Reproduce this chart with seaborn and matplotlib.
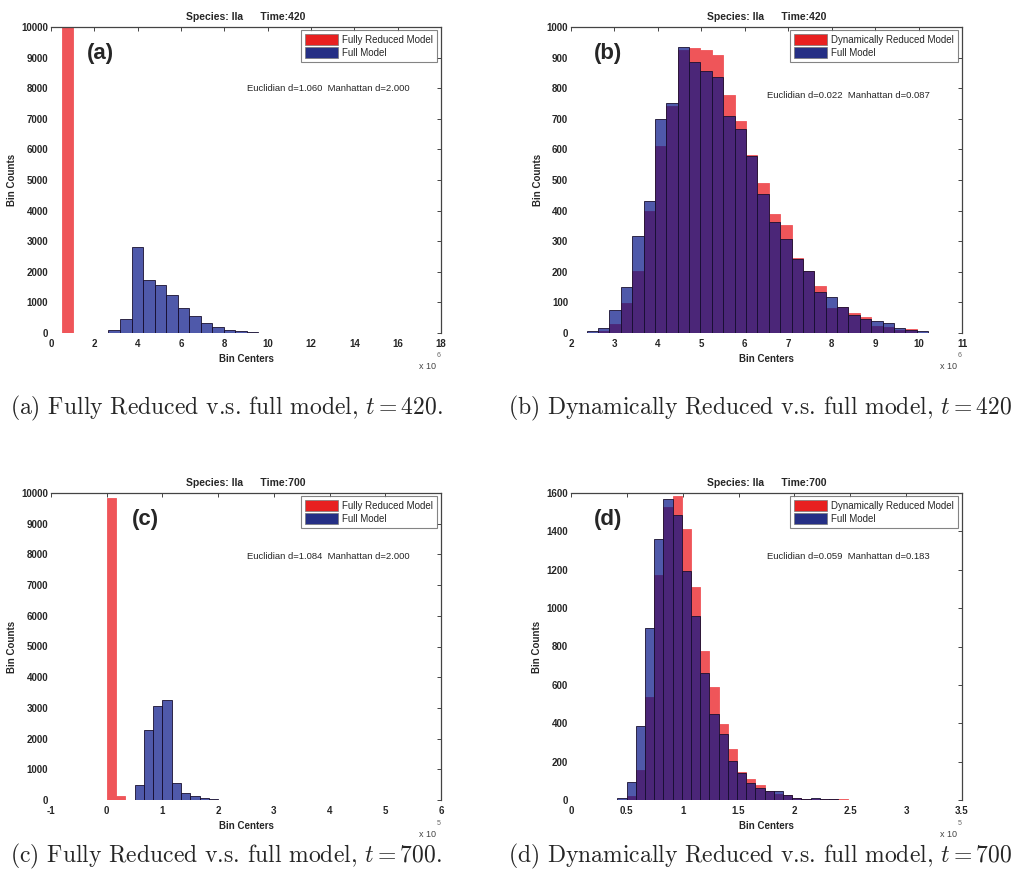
import numpy as np
import pandas as pd
import matplotlib
matplotlib.use('Agg')
import matplotlib.pyplot as plt
import seaborn as sns
from matplotlib.patches import Patch

# ---- data (bin counts) ----
# (a) t=420, fully reduced vs full, x in units of 1e6
a_red_edges = [0.52, 1.03]
a_red_counts = [10000]
a_blue_range = (2.12, 10.1, 15)
a_blue_counts = [10, 87, 457, 2815, 1739, 1554, 1228, 826, 565, 337, 207, 109, 65, 33, 10]

# (b) t=420, dynamically reduced vs full
b_range = (2.36, 10.22, 30)
b_red_counts = [0, 8, 30, 98, 203, 399, 612, 741, 924, 932, 926, 908, 779, 692, 582,
                490, 388, 352, 245, 201, 154, 83, 84, 65, 51, 22, 18, 11, 13, 0]
b_blue_counts = [5, 16, 74, 149, 317, 433, 698, 752, 935, 885, 855, 838, 709, 666, 578,
                 453, 362, 307, 243, 201, 135, 118, 84, 58, 46, 40, 33, 16, 11, 5]

# (c) t=700, fully reduced vs full, x in units of 1e5
c_red_range = (0.0, 0.333, 2)
c_red_counts = [9848, 141]
c_blue_range = (0.333, 2.5, 13)
c_blue_counts = [8, 499, 2267, 3069, 3265, 553, 239, 119, 65, 33, 10, 6, 4]

# (d) t=700, dynamically reduced vs full
d_range = (0.415, 2.64, 27)
d_red_counts = [0, 21, 156, 536, 1174, 1528, 1583, 1410, 1108, 778, 590, 394, 264, 148,
                108, 76, 49, 30, 24, 12, 7, 5, 5, 3, 3, 2, 1]
d_blue_counts = [10, 92, 387, 898, 1358, 1568, 1483, 1194, 958, 663, 448, 344, 203, 139,
                 87, 61, 49, 47, 24, 12, 3, 9, 7, 3, 0, 2, 1]

sns.set_style('white')
plt.rcParams['font.family'] = ['Liberation Sans', 'DejaVu Sans']
plt.rcParams['mathtext.fontset'] = 'cm'

RED = '#EF5559'
BLUE = '#051386'
W, H = 1011, 892

fig = plt.figure(figsize=(W / 100, H / 100), dpi=100)


def make_ax(l, t, r, b):
    return fig.add_axes([l / W, 1 - b / H, (r - l) / W, (b - t) / H])


def edges_of(rng):
    lo, hi, n = rng
    return np.linspace(lo, hi, n + 1)


def hist(ax, edges, counts, color, alpha, edgecolor):
    edges = [float(e) for e in edges]
    centers = [(edges[i] + edges[i + 1]) / 2 for i in range(len(edges) - 1)]
    df = pd.DataFrame({'x': centers, 'w': counts})
    sns.histplot(data=df, x='x', weights='w', bins=edges, ax=ax, color=color,
                 alpha=alpha, edgecolor=edgecolor, linewidth=0.6)


def style(ax, time, red_label, xlim, xticks, ylim, yticks, letter, letter_x,
          dist, dist_y, exp):
    ax.set_xlim(*xlim)
    ax.set_ylim(*ylim)
    ax.set_xticks(xticks)
    ax.set_xticklabels(['%g' % v for v in xticks])
    ax.set_yticks(yticks)
    ax.set_yticklabels(['%g' % v for v in yticks])
    for s in ['left', 'bottom']:
        ax.spines[s].set_visible(False)
    for s in ['top', 'right']:
        ax.spines[s].set_color('#444444')
        ax.spines[s].set_linewidth(0.9)
    ax.tick_params(direction='in', top=True, right=True, length=3, width=0.7,
                   color='#444444', labelsize=7, pad=4)
    for lab in ax.get_xticklabels() + ax.get_yticklabels():
        lab.set_fontweight('bold')
    ax.tick_params(axis='y', pad=2)
    ax.set_xlabel('Bin Centers', fontsize=7, fontweight='bold', labelpad=4)
    ax.set_ylabel('Bin Counts', fontsize=7, fontweight='bold', labelpad=3)
    ax.set_title('Species: IIa      Time:%d' % time, fontsize=7.5,
                 fontweight='bold', pad=5)
    handles = [Patch(facecolor='#E82020', edgecolor='#777777', linewidth=0.5),
               Patch(facecolor='#252F85', edgecolor='#777777', linewidth=0.5)]
    leg = ax.legend(handles, [red_label, 'Full Model'], loc='upper right',
                    bbox_to_anchor=(0.99, 0.99), borderaxespad=0, fontsize=7,
                    frameon=True, fancybox=False, handlelength=3.4,
                    handleheight=1.3, labelspacing=0.25, handletextpad=0.4,
                    borderpad=0.45)
    leg.get_frame().set_edgecolor('#666666')
    leg.get_frame().set_linewidth(0.8)
    ax.text(letter_x, 0.915, letter, transform=ax.transAxes, fontsize=16,
            fontweight='bold', va='center', ha='left')
    ax.text(0.71, dist_y, dist, transform=ax.transAxes, fontsize=6.8,
            ha='center', va='center')
    ax.text(0.944, -0.111, 'x 10', transform=ax.transAxes, fontsize=6.5,
            color='#444444', ha='left', va='center')
    ax.text(0.995, -0.075, exp, transform=ax.transAxes, fontsize=5,
            color='#666666', ha='center', va='center')


# (a)
ax = make_ax(51, 27, 441, 333)
hist(ax, a_red_edges, a_red_counts, RED, 1.0, RED)
hist(ax, edges_of(a_blue_range), a_blue_counts, BLUE, 0.7, '#1a1030')
style(ax, 420, 'Fully Reduced Model', (0, 18), list(range(0, 19, 2)),
      (0, 10000), list(range(0, 10001, 1000)), '(a)', 0.092,
      'Euclidian d=1.060  Manhattan d=2.000', 0.80, '6')

# (b)
ax = make_ax(571, 27, 962, 333)
hist(ax, edges_of(b_range), b_red_counts, RED, 1.0, RED)
hist(ax, edges_of(b_range), b_blue_counts, BLUE, 0.7, '#1a1030')
style(ax, 420, 'Dynamically Reduced Model', (2, 11), list(range(2, 12)),
      (0, 1000), list(range(0, 1001, 100)), '(b)', 0.059,
      'Euclidian d=0.022  Manhattan d=0.087', 0.775, '6')

# (c)
ax = make_ax(51, 493, 441, 800)
hist(ax, edges_of(c_red_range), c_red_counts, RED, 1.0, RED)
hist(ax, edges_of(c_blue_range), c_blue_counts, BLUE, 0.7, '#1a1030')
style(ax, 700, 'Fully Reduced Model', (-1, 6), list(range(-1, 7)),
      (0, 10000), list(range(0, 10001, 1000)), '(c)', 0.207,
      'Euclidian d=1.084  Manhattan d=2.000', 0.792, '5')

# (d)
ax = make_ax(571, 493, 962, 800)
hist(ax, edges_of(d_range), d_red_counts, RED, 1.0, RED)
hist(ax, edges_of(d_range), d_blue_counts, BLUE, 0.7, '#1a1030')
style(ax, 700, 'Dynamically Reduced Model', (0, 3.5),
      [0, 0.5, 1, 1.5, 2, 2.5, 3, 3.5], (0, 1600), list(range(0, 1601, 200)),
      '(d)', 0.059, 'Euclidian d=0.059  Manhattan d=0.183', 0.792, '5')

# sub-figure captions
cap = dict(fontsize=17, fontfamily='cmr10', va='center', ha='left')
fig.text(10 / W, 1 - 408 / H, '(a) Fully Reduced v.s. full model, $t = 420$.', **cap)
fig.text(508 / W, 1 - 408 / H, '(b) Dynamically Reduced v.s. full model, $t = 420$', **cap)
fig.text(10 / W, 1 - 856 / H, '(c) Fully Reduced v.s. full model, $t = 700$.', **cap)
fig.text(508 / W, 1 - 856 / H, '(d) Dynamically Reduced v.s. full model, $t = 700$', **cap)

fig.savefig('out.png', dpi=100, facecolor='white')
